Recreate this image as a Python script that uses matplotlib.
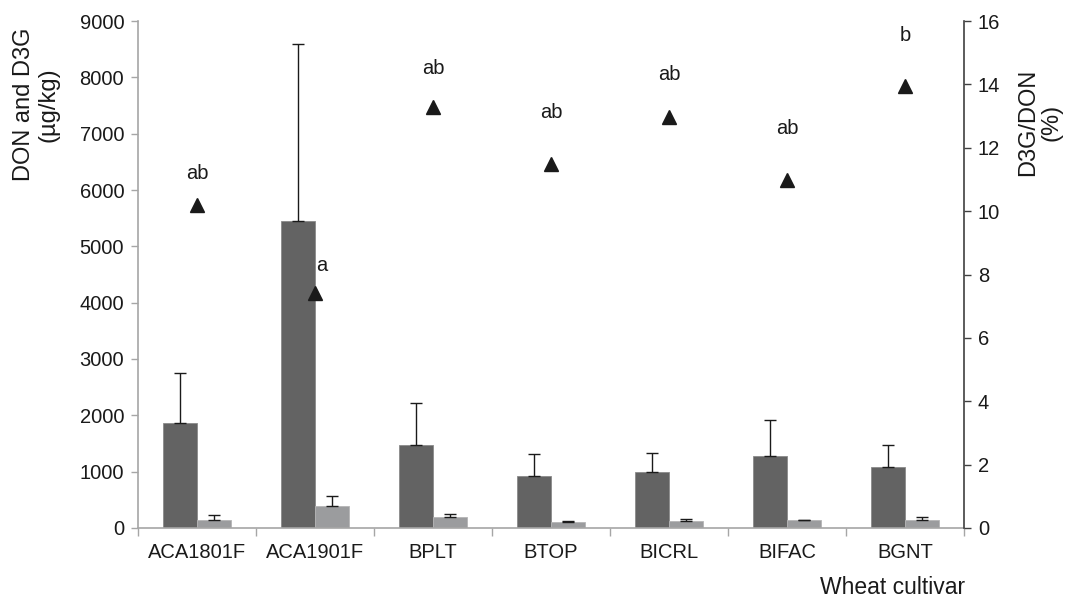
import numpy as np
import matplotlib
matplotlib.use('Agg')
import matplotlib.pyplot as plt

plt.rcParams['font.family'] = ['Liberation Sans', 'DejaVu Sans']

# data
cultivars = ['ACA1801F', 'ACA1901F', 'BPLT', 'BTOP', 'BICRL', 'BIFAC', 'BGNT']
don = [1870, 5450, 1480, 920, 1000, 1280, 1090]
don_err = [890, 3150, 740, 390, 330, 630, 380]
d3g = [145, 390, 195, 110, 130, 135, 145]
d3g_err = [90, 180, 60, 20, 35, 10, 55]
ratio = [10.18, 7.42, 13.3, 11.48, 12.97, 10.98, 13.95]
letters = ['ab', 'a', 'ab', 'ab', 'ab', 'ab', 'b']
letter_y = [11.2, 8.3, 14.5, 13.1, 14.3, 12.6, 15.55]
letter_dx = [0, 0.06, 0, 0, 0, 0, 0]

DON_COLOR = '#636363'
D3G_COLOR = '#9b9c9e'
LIGHT = '#a6a6a6'
DARK = '#404040'
TXT = '#1a1a1a'
FS = 14.5

fig = plt.figure(figsize=(10.66, 6.01), dpi=100)
ax = fig.add_axes([0.1295, 0.1215, 0.7748, 0.8435])
ax2 = ax.twinx()

x = np.arange(len(cultivars))
w = 0.29
ax.bar(x - w / 2, don, w, color=DON_COLOR, edgecolor='#8a8a8a', linewidth=0.6)
ax.bar(x + w / 2, d3g, w, color=D3G_COLOR, edgecolor='#b5b5b5', linewidth=0.6)
ax.errorbar(x - w / 2, don, yerr=[np.zeros(len(don)), don_err], fmt='none',
            ecolor=TXT, elinewidth=1, capsize=4, capthick=1)
ax.errorbar(x + w / 2, d3g, yerr=[np.zeros(len(d3g)), d3g_err], fmt='none',
            ecolor=TXT, elinewidth=1, capsize=4, capthick=1)

ax.set_xlim(-0.5, len(cultivars) - 0.5)
ax.set_ylim(0, 9000)
ax.set_yticks(np.arange(0, 9001, 1000))
ax.set_xticks(x)
ax.set_xticklabels(cultivars)
ax.set_xticks(np.arange(-0.5, len(cultivars)), minor=True)
ax.tick_params(axis='x', which='major', length=0, labelsize=FS, pad=11, labelcolor=TXT)
ax.tick_params(axis='x', which='minor', length=6, width=1, color=LIGHT, direction='out')
ax.tick_params(axis='y', length=5, width=1, color=LIGHT, labelsize=FS, pad=5, labelcolor=TXT)

for s in ['top', 'right']:
    ax.spines[s].set_visible(False)
ax.spines['left'].set_color(LIGHT)
ax.spines['bottom'].set_color(LIGHT)
ax.spines['left'].set_linewidth(1.2)
ax.spines['bottom'].set_linewidth(1.2)

ax2.plot(x, ratio, linestyle='none', marker='^', markersize=10, color=TXT)
for i, (lab, ly) in enumerate(zip(letters, letter_y)):
    ax2.text(x[i] + letter_dx[i], ly, lab, ha='center', va='center', fontsize=FS, color=TXT)
ax2.set_ylim(0, 16)
ax2.set_yticks(np.arange(0, 17, 2))
ax2.tick_params(axis='y', length=5, width=1, color=DARK, labelsize=FS, pad=5, labelcolor=TXT)
for s in ['top', 'left', 'bottom']:
    ax2.spines[s].set_visible(False)
ax2.spines['right'].set_color(DARK)
ax2.spines['right'].set_linewidth(1.2)

fig.text(0.034, 0.826, 'DON and D3G\n(µg/kg)', rotation=90, ha='center', va='center',
         fontsize=17, linespacing=1.1, color=TXT)
fig.text(0.9755, 0.797, 'D3G/DON\n(%)', rotation=90, ha='center', va='center',
         fontsize=17, linespacing=1.1, color=TXT)
fig.text(965 / 1066, 1 - 588 / 601, 'Wheat cultivar', ha='right', va='center',
         fontsize=16.5, color=TXT)

fig.savefig('out.png', dpi=100)
